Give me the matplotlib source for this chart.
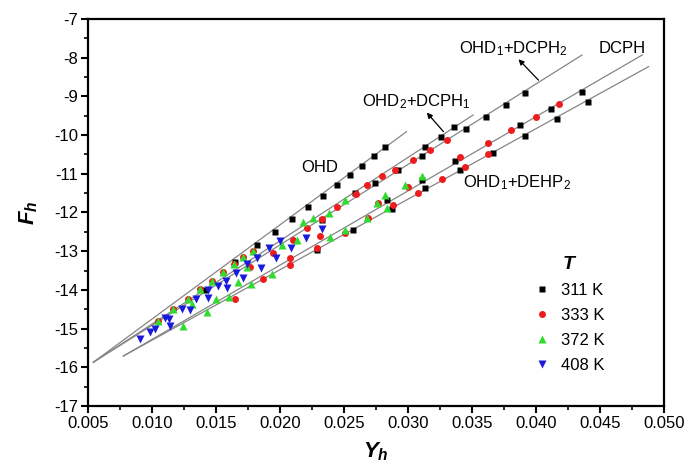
import matplotlib
matplotlib.use("Agg")
import matplotlib.pyplot as plt
from matplotlib.ticker import MultipleLocator

plt.rcParams['font.family'] = ['Liberation Sans', 'DejaVu Sans']
plt.rcParams['mathtext.fontset'] = 'custom'
plt.rcParams['mathtext.rm'] = 'Liberation Sans'
plt.rcParams['mathtext.it'] = 'Liberation Sans:italic:bold'
plt.rcParams['mathtext.bf'] = 'Liberation Sans:bold'

# ---- data ----
# 311 K (black squares)
x311 = [0.02823, 0.02737, 0.02643, 0.02549, 0.02448, 0.02338, 0.02221, 0.02096, 0.01963,
        0.01823, 0.01651, 0.01417,
        0.03916, 0.04358, 0.0412, 0.04405, 0.04164, 0.03916, 0.03877, 0.03768, 0.03612,
        0.03452, 0.03362, 0.0326, 0.03135, 0.03109, 0.02927, 0.02745, 0.02588, 0.03666,
        0.0337, 0.03409, 0.03109, 0.03135, 0.02836, 0.02875, 0.02569, 0.02328, 0.02294]
y311 = [-10.30, -10.54, -10.79, -11.03, -11.29, -11.57, -11.86, -12.17, -12.50,
        -12.84, -13.28, -14.00,
        -8.90, -8.89, -9.33, -9.14, -9.58, -10.02, -9.75, -9.21, -9.52,
        -9.85, -9.80, -10.04, -10.31, -10.55, -10.90, -11.24, -11.49, -10.45,
        -10.67, -10.90, -11.15, -11.37, -11.67, -11.92, -12.44, -12.19, -12.97]

# 333 K (red circles)
x333 = [0.0418, 0.04002, 0.03807, 0.03623, 0.03623, 0.03409, 0.03448, 0.03305, 0.03174,
        0.03044, 0.02901, 0.03266, 0.02998, 0.03083, 0.02888, 0.02797, 0.0268, 0.02596,
        0.0277, 0.02692, 0.0251, 0.02445, 0.02328, 0.02211, 0.02315, 0.02294, 0.02106,
        0.0208, 0.0208, 0.0195, 0.01872, 0.01768, 0.01651,
        0.01791, 0.01714, 0.01643, 0.01557, 0.01471, 0.01377, 0.01284, 0.01166, 0.01049]
y333 = [-9.20, -9.52, -9.87, -10.20, -10.49, -10.57, -10.82, -10.13, -10.38,
        -10.65, -10.89, -11.13, -11.34, -11.49, -11.81, -11.06, -11.29, -11.53,
        -11.75, -12.15, -12.53, -11.85, -12.16, -12.41, -12.62, -12.93, -12.71,
        -13.18, -13.36, -13.05, -13.73, -13.40, -14.24,
        -12.99, -13.15, -13.33, -13.54, -13.77, -13.98, -14.24, -14.49, -14.80]

# 372 K (green triangles)
x372 = [0.01245, 0.01432, 0.01604, 0.01776, 0.0194, 0.02393, 0.0251, 0.02682, 0.02838,
        0.01315, 0.01503, 0.01675, 0.01745, 0.02019, 0.02136, 0.02182, 0.0226, 0.02385,
        0.0251, 0.0276, 0.02823, 0.02979, 0.03112,
        0.01791, 0.01714, 0.01643, 0.01557, 0.01471, 0.01377, 0.01284, 0.01166, 0.01049]
y372 = [-14.93, -14.57, -14.18, -13.85, -13.59, -12.63, -12.45, -12.14, -11.88,
        -14.36, -14.24, -13.80, -13.41, -12.84, -12.71, -12.25, -12.14, -12.01,
        -11.68, -11.75, -11.55, -11.29, -11.06,
        -12.99, -13.15, -13.33, -13.54, -13.77, -13.98, -14.24, -14.49, -14.80]

# 408 K (blue down-triangles)
x408 = [0.00909, 0.00987, 0.01026, 0.01104, 0.01135, 0.01143, 0.01237, 0.01299, 0.01346,
        0.0144, 0.0144, 0.01518, 0.01581, 0.01588, 0.01659, 0.01713, 0.01745, 0.01823,
        0.01857, 0.01918, 0.01972, 0.02003, 0.02089, 0.02206, 0.0233]
y408 = [-15.27, -15.09, -15.01, -14.73, -14.75, -14.93, -14.49, -14.52, -14.24,
        -14.00, -14.21, -13.90, -13.77, -13.95, -13.56, -13.69, -13.33, -13.18,
        -13.44, -12.92, -13.18, -12.74, -12.92, -12.66, -12.43]

# fitted lines (start/end)
line_names = ['OHD', 'OHD2+DCPH1', 'OHD1+DCPH2', 'DCPH', 'OHD1+DEHP2']
line_x0 = [0.00544, 0.00544, 0.00544, 0.00778, 0.00778]
line_y0 = [-15.87, -15.87, -15.87, -15.71, -15.71]
line_x1 = [0.0299, 0.0351, 0.0436, 0.0483, 0.0488]
line_y1 = [-9.91, -9.48, -7.93, -7.93, -8.23]

xticks = [0.005, 0.010, 0.015, 0.020, 0.025, 0.030, 0.035, 0.040, 0.045, 0.050]
yticks = [-17, -16, -15, -14, -13, -12, -11, -10, -9, -8, -7]

# ---- figure ----
fig = plt.figure(figsize=(6.92, 4.66), dpi=100)
ax = fig.add_axes([0.1267, 0.1288, 0.8328, 0.8304])

for x0, y0, x1, y1 in zip(line_x0, line_y0, line_x1, line_y1):
    ax.plot([x0, x1], [y0, y1], color='#858585', lw=0.9, zorder=1)

ax.plot(x311, y311, 's', color='black', ms=4.2, mec='none', label='311 K', zorder=3)
ax.plot(x333, y333, 'o', color='#ee1c1c', ms=5.0, mec='none', label='333 K', zorder=3)
ax.plot(x372, y372, '^', color='#2edb2e', ms=5.5, mec='none', label='372 K', zorder=4)
ax.plot(x408, y408, 'v', color='#1a1adc', ms=5.5, mec='none', label='408 K', zorder=5)

ax.set_xlim(0.005, 0.050)
ax.set_ylim(-17, -7)
ax.set_xticks(xticks)
ax.set_xticklabels([f'{v:.3f}' for v in xticks])
ax.set_yticks(yticks)
ax.set_yticklabels([str(v) for v in yticks])
ax.xaxis.set_minor_locator(MultipleLocator(0.0025))
ax.yaxis.set_minor_locator(MultipleLocator(0.5))
ax.tick_params(which='major', direction='out', length=5, width=1.5, labelsize=12,
               top=False, right=False, pad=2)
ax.tick_params(which='minor', direction='out', length=3, width=1.2, top=False, right=False)
for s in ax.spines.values():
    s.set_linewidth(1.6)

ax.set_xlabel('$Y_h$', fontsize=16, labelpad=7)
ax.set_ylabel('$F_h$', fontsize=16, labelpad=10)

fs = 12
ax.text(0.02315, -10.85, 'OHD', fontsize=fs, ha='center', va='center')
ax.text(0.03069, -9.14, 'OHD$_2$+DCPH$_1$', fontsize=fs, ha='center', va='center')
ax.text(0.03825, -7.76, 'OHD$_1$+DCPH$_2$', fontsize=fs, ha='center', va='center')
ax.text(0.04672, -7.76, 'DCPH', fontsize=fs, ha='center', va='center')
ax.text(0.03852, -11.22, 'OHD$_1$+DEHP$_2$', fontsize=fs, ha='center', va='center')
arrow_kw = dict(arrowstyle='-|>', color='black', lw=0.9, mutation_scale=8,
                shrinkA=0, shrinkB=0)
ax.annotate('', xy=(0.03148, -9.42), xytext=(0.03278, -9.91), arrowprops=arrow_kw)
ax.annotate('', xy=(0.03864, -8.04), xytext=(0.0402, -8.58), arrowprops=arrow_kw)

leg = ax.legend(title='$T$', loc='upper left', bbox_to_anchor=(0.763, 0.405),
                frameon=False, fontsize=12, title_fontsize=14, handlelength=1.0,
                handletextpad=0.6, labelspacing=0.6, borderaxespad=0)
leg._legend_box.align = 'center'

fig.savefig('out.png', dpi=100)
